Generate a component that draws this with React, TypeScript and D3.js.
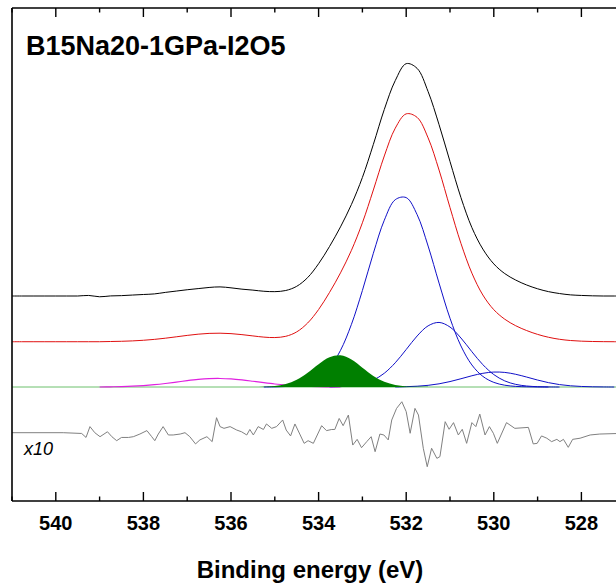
import React, { useEffect, useRef } from "react";
import * as d3 from "d3";

// binding energy grid (eV) shared by the raw data and the fitted components
const energies = [
  541, 540.75, 540.5, 540.25, 540, 539.75, 539.5, 539.25, 539, 538.75, 538.5, 538.25,
  538, 537.75, 537.5, 537.25, 537, 536.75, 536.5, 536.25, 536, 535.75, 535.5, 535.25,
  535, 534.75, 534.5, 534.25, 534, 533.75, 533.5, 533.25, 533, 532.75, 532.5, 532.25,
  532, 531.75, 531.5, 531.25, 531, 530.75, 530.5, 530.25, 530, 529.75, 529.5, 529.25,
  529, 528.75, 528.5, 528.25, 528, 527.75, 527.5, 527.25, 527,
];

// measured spectrum (black)
const rawCounts = [
  0, 0, 0, 0, 0, 0, 0, 0.3, -0.4, 0.05, 0.2, 0.5,
  0.8, 1.1, 1.9, 2.6, 3.3, 3.9, 4.5, 4.8, 4.3, 3.6, 3.1, 2.5,
  2.3, 2.9, 5.1, 9.7, 17.0, 26.1, 36.4, 48.2, 62.4, 79.8, 98.2, 113.4,
  122.3, 119.8, 107.6, 90.2, 70.8, 51.8, 36.0, 24.7, 16.9, 11.8, 8.4, 5.8,
  3.8, 2.3, 1.3, 0.6, 0.3, 0.1, 0, 0, 0,
];

// fitted components
const peak536 = [
  0, 0, 0, 0, 0, 0, 0, 0, 0, 0.11, 0.23, 0.43,
  0.76, 1.23, 1.85, 2.58, 3.33, 3.97, 4.39, 4.49, 4.26, 3.73, 3.03, 2.28,
  1.59, 1.02, 0.61, 0.34, 0.17, 0.08, 0, 0, 0, 0, 0, 0,
  0, 0, 0, 0, 0, 0, 0, 0, 0, 0, 0, 0,
  0, 0, 0, 0, 0, 0, 0, 0, 0,
];
const peak5335 = [
  0, 0, 0, 0, 0, 0, 0, 0, 0, 0, 0, 0,
  0, 0, 0, 0, 0, 0, 0, 0, 0, 0, 0.03, 0.14,
  0.52, 1.55, 3.78, 7.47, 12.0, 15.7, 16.73, 14.5, 10.2, 5.83, 2.72, 1.03,
  0.32, 0.08, 0.02, 0, 0, 0, 0, 0, 0, 0, 0, 0,
  0, 0, 0, 0, 0, 0, 0, 0, 0,
];
const peak532 = [
  0, 0, 0, 0, 0, 0, 0, 0, 0, 0, 0, 0,
  0, 0, 0, 0, 0, 0, 0, 0, 0, 0, 0, 0,
  0.08, 0.27, 0.78, 2.04, 4.78, 10.2, 19.3, 33.0, 50.8, 70.4, 87.8, 98.6,
  99.7, 90.7, 74.2, 54.7, 36.2, 21.6, 11.6, 5.61, 2.44, 0.95, 0.33, 0.11,
  0.03, 0, 0, 0, 0, 0, 0, 0, 0,
];
const peak5313 = [
  0, 0, 0, 0, 0, 0, 0, 0, 0, 0, 0, 0,
  0, 0, 0, 0, 0, 0, 0, 0, 0, 0, 0, 0,
  0, 0, 0, 0, 0, 0, 0.22, 0.62, 1.61, 3.64, 7.26, 12.76,
  19.74, 26.87, 32.2, 33.99, 31.56, 25.8, 18.57, 11.76, 6.55, 3.22, 1.39, 0.53,
  0.17, 0.05, 0, 0, 0, 0, 0, 0, 0,
];
const peak530 = [
  0, 0, 0, 0, 0, 0, 0, 0, 0, 0, 0, 0,
  0, 0, 0, 0, 0, 0, 0, 0, 0, 0, 0, 0,
  0, 0, 0, 0, 0, 0, 0, 0, 0, 0, 0, 0,
  0.18, 0.42, 0.88, 1.68, 2.86, 4.35, 5.92, 7.21, 7.87, 7.68, 6.70, 5.24,
  3.66, 2.29, 1.28, 0.64, 0.29, 0.12, 0.04, 0, 0,
];

// residual (raw - fit), drawn x10
const residualEnergy = [
  541, 539.83, 539.41, 539.31, 539.22, 539.11, 538.99, 538.82, 538.72, 538.61, 538.5, 538.34,
  538.23, 538.08, 537.92, 537.81, 537.74, 537.66, 537.55, 537.43, 537.32, 537.16, 537.05, 536.94,
  536.81, 536.71, 536.55, 536.43, 536.33, 536.25, 536.16, 536.02, 535.87, 535.76, 535.64, 535.57,
  535.49, 535.38, 535.26, 535.19, 535.07, 534.96, 534.82, 534.74, 534.64, 534.54, 534.42, 534.33,
  534.24, 534.12, 533.93, 533.82, 533.7, 533.63, 533.53, 533.44, 533.32, 533.22, 533.12, 533.02,
  532.9, 532.8, 532.71, 532.6, 532.51, 532.41, 532.33, 532.22, 532.1, 532.0, 531.91, 531.8,
  531.72, 531.61, 531.52, 531.42, 531.3, 531.23, 531.11, 531.02, 530.92, 530.81, 530.72, 530.62,
  530.5, 530.41, 530.32, 530.2, 530.1, 530.01, 529.92, 529.71, 529.52, 529.21, 529.1, 529.01,
  528.91, 528.79, 528.68, 528.56, 528.49, 528.41, 528.3, 528.2, 528.03, 527.8, 527.58, 527.0,
];
const residualValue = [
  0, 0, -0.04, -0.25, 0.32, 0, -0.21, 0.05, -0.21, -0.42, -0.25, -0.25,
  -0.21, -0.07, 0.11, -0.21, -0.42, -0.07, 0.32, -0.12, -0.12, -0.07, 0, -0.21,
  -0.59, -0.38, -0.21, -0.47, 0.79, 0.32, 0.23, 0.32, 0.14, 0.05, -0.12, 0.17,
  -0.12, 0.32, 0.17, 0.46, 0.23, 0.32, 0.67, 0.14, -0.17, 0.46, -0.12, -0.56,
  -0.42, -0.56, 0.37, 0.11, 0.17, 0.17, 0.75, 0.37, 0.93, -0.65, -0.35, -0.79,
  -0.47, -0.21, -1.0, -0.07, -0.12, -0.38, 0.67, 1.28, 1.63, 1.11, -0.03, 1.28,
  0.93, -0.82, -1.79, -0.82, -1.35, -1.26, 0.58, 0.18, 0.53, -0.12, 0.18, -0.56,
  0.53, 0.32, 0.98, -0.12, 0.32, -0.03, -0.56, 0.53, 0.23, 0.28, -0.59, -0.56,
  -0.17, -0.29, -0.47, -0.35, -0.47, -0.35, -0.77, -0.35, -0.29, -0.12, -0.07, -0.03,
];

const majorTicks = [540, 538, 536, 534, 532, 530, 528];
const minorTicks = [541, 539, 537, 535, 533, 531, 529, 527];

const title = "B15Na20-1GPa-I2O5";
const xLabel = "Binding energy (eV)";
const residualLabel = "x10";

const W = 616;
const H = 586;
const font = "'Liberation Sans', Arial, sans-serif";

export default function App() {
  const svgRef = useRef<SVGSVGElement>(null);

  useEffect(() => {
    const svg = d3.select(svgRef.current);
    svg.selectAll("*").remove();

    const left = 12, top = 8, bottom = 501;
    const x = d3.scaleLinear().domain([541, 527]).range([left, left + 14 * 43.8]);
    const y = d3.scaleLinear().domain([-60, 199.5]).range([bottom, top]);

    // vertical stacking of the traces
    const rawOffset = 47.9;
    const fitOffset = 23.84;
    const resOffset = -24.05;

    const fit = energies.map((_, i) => peak536[i] + peak5335[i] + peak532[i] + peak5313[i] + peak530[i]);

    const line = (vals: number[], off: number) =>
      d3.line<number>()
        .x((_, i) => x(energies[i]))
        .y(v => y(v + off))
        .curve(d3.curveCatmullRom.alpha(0.5))(vals);

    // component lines drawn only around their non-zero range
    const compPath = (vals: number[]) => {
      const first = Math.max(0, vals.findIndex(v => v > 0) - 1);
      let last = vals.length - 1;
      while (last > 0 && vals[last] <= 0) last--;
      last = Math.min(vals.length - 1, last + 1);
      const idx = d3.range(first, last + 1);
      return d3.line<number>()
        .x(i => x(energies[i]))
        .y(i => y(vals[i]))
        .curve(d3.curveCatmullRom.alpha(0.5))(idx);
    };

    const g = svg.append("g");

    // baseline of the components
    g.append("line")
      .attr("x1", left).attr("x2", W)
      .attr("y1", y(0)).attr("y2", y(0))
      .attr("stroke", "#6cc06c").attr("stroke-width", 1);

    [peak532, peak5313, peak530].forEach(p => {
      g.append("path").attr("d", compPath(p))
        .attr("fill", "none").attr("stroke", "#1010c8").attr("stroke-width", 1);
    });

    g.append("path").attr("d", compPath(peak536))
      .attr("fill", "none").attr("stroke", "#e020e0").attr("stroke-width", 1.2);

    const gIdx = d3.range(21, 39);
    g.append("path")
      .attr("d", d3.area<number>()
        .x(i => x(energies[i]))
        .y0(y(0))
        .y1(i => y(peak5335[i]))
        .curve(d3.curveCatmullRom.alpha(0.5))(gIdx))
      .attr("fill", "#007f00").attr("stroke", "none");

    g.append("path").attr("d", line(fit, fitOffset))
      .attr("fill", "none").attr("stroke", "#e01010").attr("stroke-width", 1);

    g.append("path").attr("d", line(rawCounts, rawOffset))
      .attr("fill", "none").attr("stroke", "#000").attr("stroke-width", 1);

    g.append("path")
      .attr("d", d3.line<number>()
        .x((_, i) => x(residualEnergy[i]))
        .y(v => y(v * 10 + resOffset))(residualValue))
      .attr("fill", "none").attr("stroke", "#808080").attr("stroke-width", 1);

    // frame
    svg.append("line").attr("x1", left).attr("x2", W).attr("y1", bottom).attr("y2", bottom)
      .attr("stroke", "#000").attr("stroke-width", 1.6);
    svg.append("line").attr("x1", left).attr("x2", W).attr("y1", top).attr("y2", top)
      .attr("stroke", "#000").attr("stroke-width", 1.6);
    svg.append("line").attr("x1", left).attr("x2", left).attr("y1", top).attr("y2", bottom)
      .attr("stroke", "#000").attr("stroke-width", 1.6);

    // inward ticks on bottom and top
    const tickG = svg.append("g").attr("stroke", "#000").attr("stroke-width", 1.4);
    majorTicks.forEach(t => {
      tickG.append("line").attr("x1", x(t)).attr("x2", x(t)).attr("y1", bottom).attr("y2", bottom - 9);
      tickG.append("line").attr("x1", x(t)).attr("x2", x(t)).attr("y1", top).attr("y2", top + 9);
    });
    minorTicks.forEach(t => {
      tickG.append("line").attr("x1", x(t)).attr("x2", x(t)).attr("y1", bottom).attr("y2", bottom - 4.5);
      tickG.append("line").attr("x1", x(t)).attr("x2", x(t)).attr("y1", top).attr("y2", top + 4.5);
    });

    svg.append("g").selectAll("text").data(majorTicks).enter().append("text")
      .attr("x", d => x(d)).attr("y", 530)
      .attr("text-anchor", "middle")
      .attr("font-family", font).attr("font-weight", "bold").attr("font-size", 20)
      .text(d => d);

    svg.append("text")
      .attr("x", 310).attr("y", 578)
      .attr("text-anchor", "middle")
      .attr("font-family", font).attr("font-weight", "bold").attr("font-size", 24)
      .text(xLabel);

    svg.append("text")
      .attr("x", 26).attr("y", 55)
      .attr("font-family", font).attr("font-weight", "bold").attr("font-size", 27)
      .text(title);

    svg.append("text")
      .attr("x", 24).attr("y", 455)
      .attr("font-family", font).attr("font-style", "italic").attr("font-size", 18)
      .text(residualLabel);
  }, []);

  return (
    <svg
      ref={svgRef}
      width={W}
      height={H}
      style={{ position: "absolute", left: 0, top: 0, background: "#fff" }}
    />
  );
}
